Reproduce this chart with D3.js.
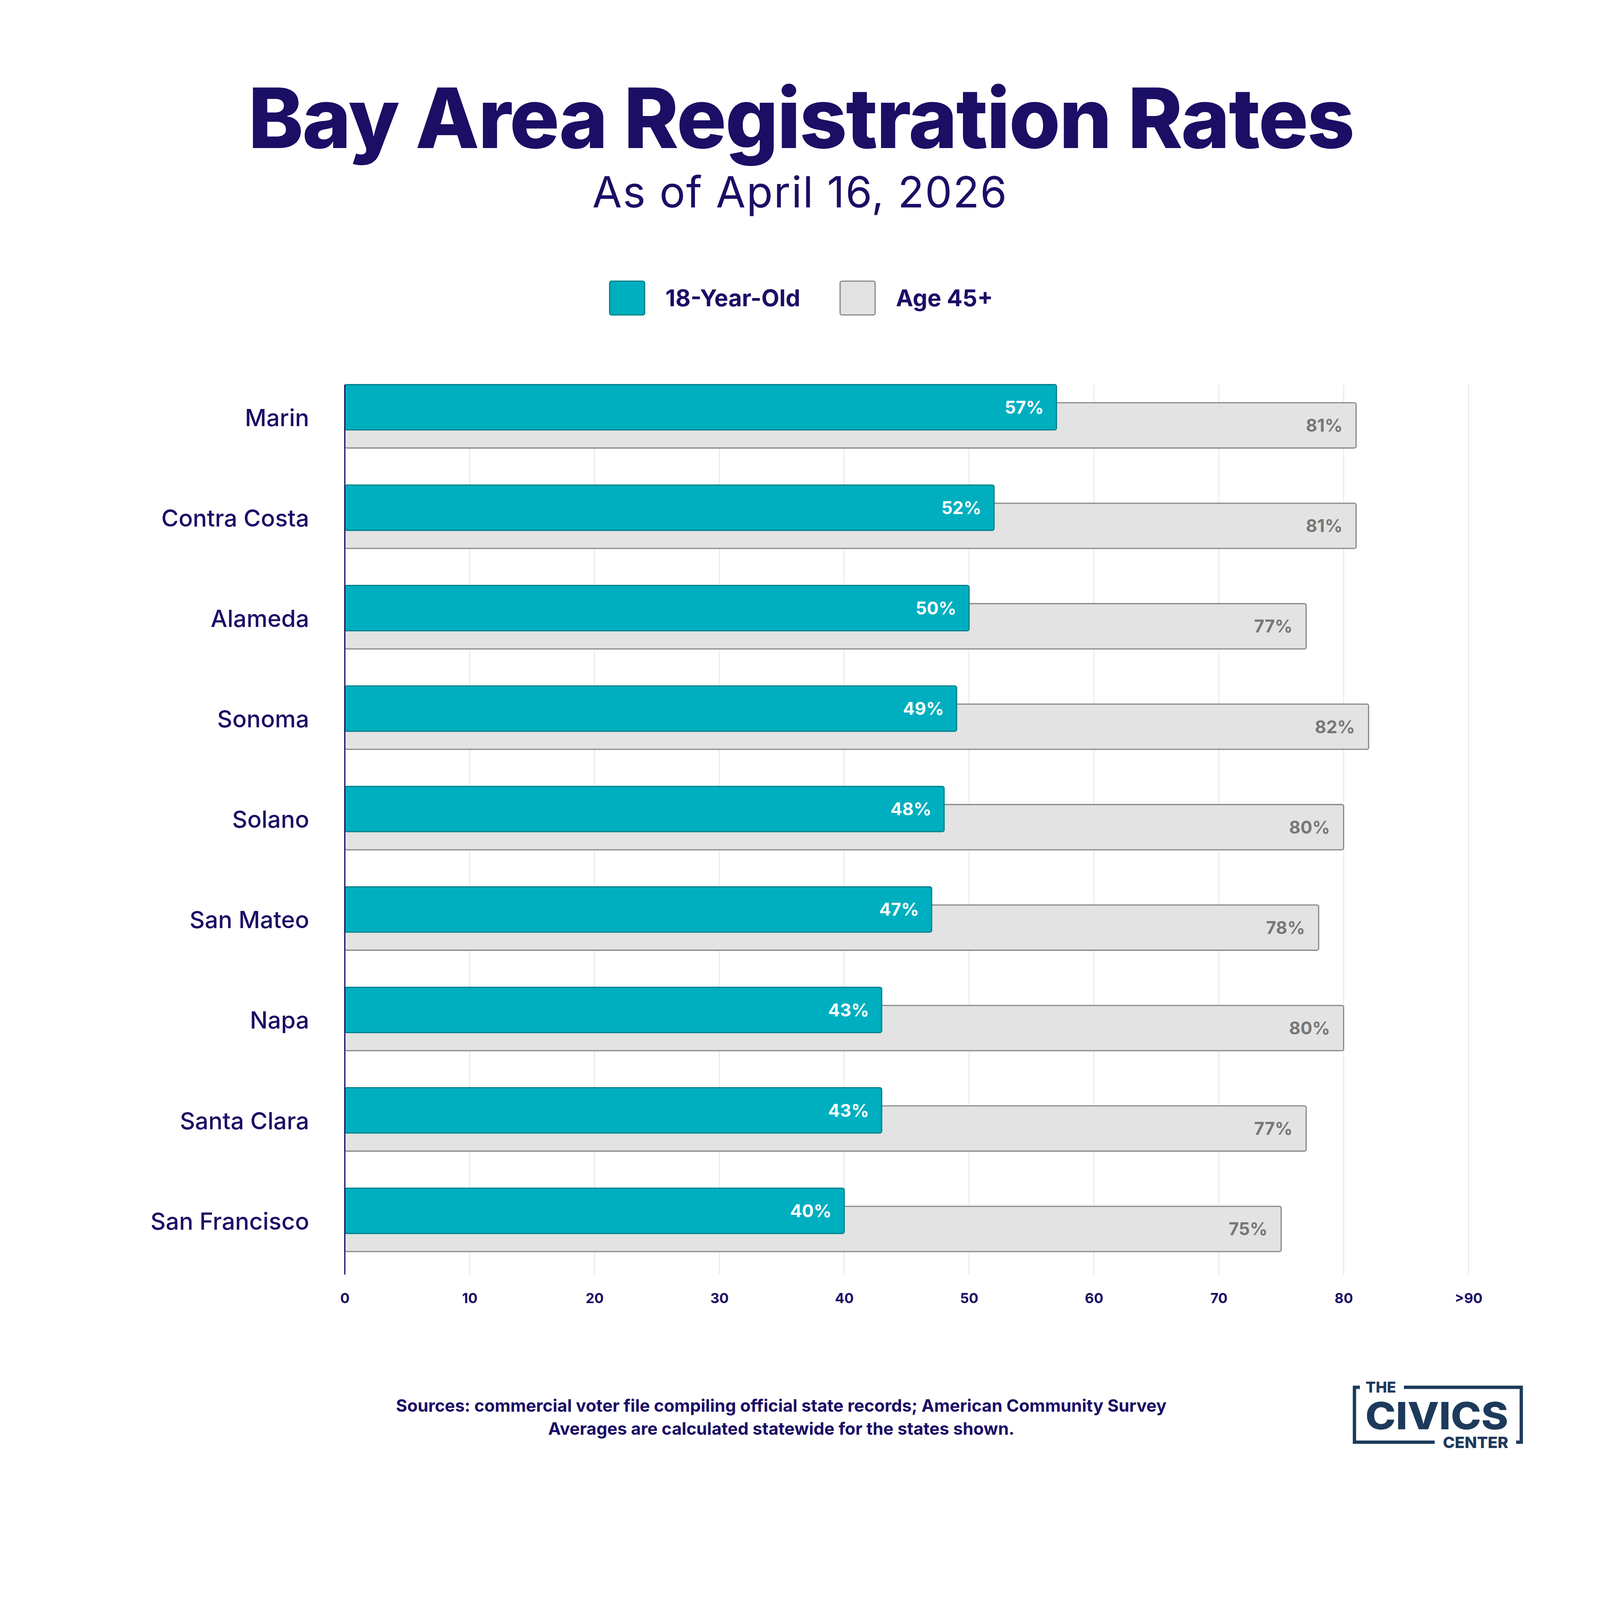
<!DOCTYPE html>
<html>
<head>
<meta charset="utf-8">
<script src="https://cdn.jsdelivr.net/npm/d3@7"></script>
<style>
  html, body { margin: 0; padding: 0; background: #fff; overflow: hidden; }
  svg { display: block; width: 100vw; height: 100vh; font-family: Inter, "Noto Sans", sans-serif; }
</style>
</head>
<body>
<svg id="chart" viewBox="0 0 5304 5008" preserveAspectRatio="xMidYMin meet"></svg>
<script>
// data
const counties = ['Marin', 'Contra Costa', 'Alameda', 'Sonoma', 'Solano', 'San Mateo', 'Napa', 'Santa Clara', 'San Francisco'];
const youth = [57, 52, 50, 49, 48, 47, 43, 43, 40];    // 18-Year-Old
const older = [81, 81, 77, 82, 80, 78, 80, 77, 75];    // Age 45+
const tickValues = [0, 10, 20, 30, 40, 50, 60, 70, 80, 90];
const tickLabels = ['0', '10', '20', '30', '40', '50', '60', '70', '80', '>90'];
const seriesNames = ['18-Year-Old', 'Age 45+'];
const sourceLines = [
    'Sources: commercial voter file compiling official state records; American Community Survey',
    'Averages are calculated statewide for the states shown.'
];

const NAVY = '#1b0e65';
const TEAL = '#00afbf', TEAL_DARK = '#00808a';
const GREY = '#e3e3e3', GREY_DARK = '#8a8a8a';
const LOGO = '#1d3a5a';

const svg = d3.select('#chart');

// shrink/grow font so text hits a target width, returns the new size
function fitWidth(sel, target) {
    const size = parseFloat(sel.attr('font-size'));
    const w = sel.node().getComputedTextLength();
    const fitted = +(size * target / w).toFixed(1);
    sel.attr('font-size', fitted);
    return fitted;
}

// titles
const title = svg.append('text').attr('x', 2655).attr('y', 491)
    .attr('text-anchor', 'middle').attr('fill', NAVY)
    .attr('font-size', 250).attr('font-weight', 800).attr('letter-spacing', -4)
    .text('Bay Area Registration Rates');
fitWidth(title, 3653);

const sub = svg.append('text').attr('x', 2652).attr('y', 687)
    .attr('text-anchor', 'middle').attr('fill', NAVY)
    .attr('font-size', 135).attr('font-weight', 400).attr('letter-spacing', 3)
    .text('As of April 16, 2026');
fitWidth(sub, 1380);

// legend
const legendX = [2021, 2785];
const legend = svg.append('g');
seriesNames.forEach((name, i) => {
    legend.append('rect')
        .attr('x', legendX[i]).attr('y', 932).attr('width', 116).attr('height', 112)
        .attr('rx', 6)
        .attr('fill', i === 0 ? TEAL : GREY)
        .attr('stroke', i === 0 ? TEAL_DARK : GREY_DARK).attr('stroke-width', 4);
    legend.append('text')
        .attr('x', legendX[i] + 185).attr('y', 1015)
        .attr('fill', NAVY).attr('font-size', 77).attr('font-weight', 700)
        .text(name);
});

// scales
const x = d3.scaleLinear().domain([0, 90]).range([1143, 4868]);
const y = d3.scaleBand().domain(counties).range([1275, 4149]).paddingInner(0.369).paddingOuter(0);
const barH = 150, offset = y.bandwidth() - barH;
const gridTop = 1275, gridBottom = 4225;

// grid
svg.append('g').selectAll('line').data(tickValues.slice(1)).join('line')
    .attr('x1', d => x(d)).attr('x2', d => x(d))
    .attr('y1', gridTop).attr('y2', gridBottom)
    .attr('stroke', '#e6e6e6').attr('stroke-width', 3);

// x tick labels via axis
const axis = svg.append('g').attr('transform', `translate(0,${gridBottom})`)
    .call(d3.axisBottom(x).tickValues(tickValues).tickFormat((d, i) => tickLabels[i]).tickSize(0).tickPadding(95));
axis.select('.domain').remove();
axis.selectAll('text')
    .attr('fill', NAVY).attr('font-size', 46).attr('font-weight', 700)
    .attr('font-family', 'Inter, sans-serif').attr('dy', 0);

// bars
const rows = counties.map((c, i) => ({ county: c, youth: youth[i], older: older[i] }));
const g = svg.append('g');

g.selectAll('rect.older').data(rows).join('rect').attr('class', 'older')
    .attr('x', x(0)).attr('y', d => y(d.county) + offset)
    .attr('width', d => x(d.older) - x(0)).attr('height', barH)
    .attr('rx', 6)
    .attr('fill', GREY).attr('stroke', GREY_DARK).attr('stroke-width', 4);

g.selectAll('rect.youth').data(rows).join('rect').attr('class', 'youth')
    .attr('x', x(0)).attr('y', d => y(d.county))
    .attr('width', d => x(d.youth) - x(0)).attr('height', barH)
    .attr('rx', 6)
    .attr('fill', TEAL).attr('stroke', TEAL_DARK).attr('stroke-width', 4);

g.selectAll('text.older').data(rows).join('text').attr('class', 'older')
    .attr('x', d => x(d.older) - 45).attr('y', d => y(d.county) + offset + barH / 2)
    .attr('dy', '0.36em').attr('text-anchor', 'end')
    .attr('fill', '#777').attr('font-size', 58).attr('font-weight', 700)
    .text(d => d.older + '%');

g.selectAll('text.youth').data(rows).join('text').attr('class', 'youth')
    .attr('x', d => x(d.youth) - 42).attr('y', d => y(d.county) + barH / 2)
    .attr('dy', '0.36em').attr('text-anchor', 'end')
    .attr('fill', '#fff').attr('font-size', 58).attr('font-weight', 700)
    .text(d => d.youth + '%');

// zero axis line
svg.append('line')
    .attr('x1', x(0)).attr('x2', x(0)).attr('y1', gridTop).attr('y2', gridBottom)
    .attr('stroke', NAVY).attr('stroke-width', 4);

// county labels
g.selectAll('text.county').data(counties).join('text').attr('class', 'county')
    .attr('x', 1025).attr('y', d => y(d) + y.bandwidth() / 2 + 4)
    .attr('dy', '0.36em').attr('text-anchor', 'end')
    .attr('fill', NAVY).attr('font-size', 78).attr('font-weight', 500)
    .text(d => d);

// sources, sized so the first line matches the reference width
const src = svg.append('g').attr('fill', NAVY).attr('font-weight', 700).attr('text-anchor', 'middle');
const firstLine = src.append('text').attr('x', 2590).attr('y', 4680)
    .attr('font-size', 50).text(sourceLines[0]);
const srcSize = fitWidth(firstLine, 2556);
src.append('text').attr('x', 2590).attr('y', 4756)
    .attr('font-size', srcSize).text(sourceLines[1]);

// logo
const logo = svg.append('g');
logo.append('path')
    .attr('d', 'M4508,4599 H4490 V4781 H4756 M5026,4781 H5043 V4599 H4654')
    .attr('fill', 'none').attr('stroke', LOGO).attr('stroke-width', 11);
logo.append('text').attr('x', 4527).attr('y', 4616)
    .attr('font-size', 50).attr('font-weight', 800).attr('fill', LOGO)
    .attr('textLength', 101).attr('lengthAdjust', 'spacingAndGlyphs').text('THE');
logo.append('text').attr('x', 4526).attr('y', 4738)
    .attr('font-size', 124).attr('font-weight', 800).attr('fill', LOGO)
    .attr('textLength', 474).attr('lengthAdjust', 'spacingAndGlyphs').text('CIVICS');
logo.append('text').attr('x', 4783).attr('y', 4800)
    .attr('font-size', 52).attr('font-weight', 800).attr('fill', LOGO)
    .attr('textLength', 217).attr('lengthAdjust', 'spacingAndGlyphs').text('CENTER');
</script>
</body>
</html>
